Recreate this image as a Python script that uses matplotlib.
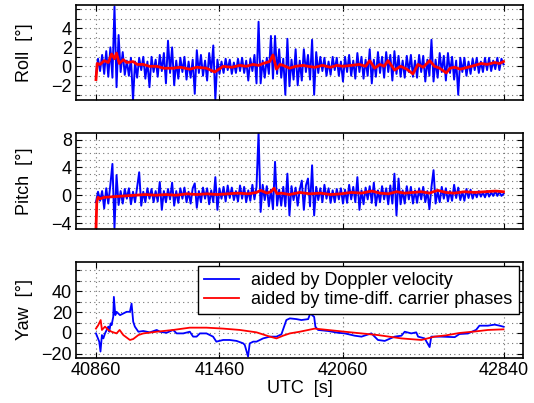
import numpy as np
import matplotlib
matplotlib.use('Agg')
import matplotlib.pyplot as plt
from matplotlib.ticker import FixedLocator

plt.rcParams['font.family'] = ['Liberation Sans', 'DejaVu Sans']
plt.rcParams['font.size'] = 13

# sample times of the Doppler aided solution (roll / pitch), 10 s apart
t_noisy = np.arange(40860, 42841, 10)

roll_doppler = [
    -0.9, 0.8, -0.5, 1.2, -0.8, 1.6, -1.1, 2.0, -1.2, 6.3,
    -2.2, 3.3, -0.6, 1.5, -0.9, 0.6, -1.0, 0.9, -3.6, 0.5,
    -1.2, 0.9, -0.4, 1.0, -1.3, 0.5, -2.2, 1.0, -0.6, 0.7,
    -1.1, 1.2, -0.5, 1.4, -1.8, 2.7, -0.7, 2.0, -2.0, 0.6,
    -1.3, 0.9, -0.6, 1.0, -1.4, 0.5, -1.2, 0.7, -2.9, 1.7,
    -0.7, 1.2, -1.0, 0.6, -1.5, 1.4, -0.6, 2.2, -3.5, 0.7,
    -0.8, 0.5, -0.7, 0.8, -0.4, 0.7, -0.8, 0.4, -0.7, 0.8,
    -0.5, 0.9, -0.7, 0.6, -1.5, 0.8, -0.5, 1.2, -1.8, 4.7,
    -1.8, 0.6, -1.2, 0.9, -0.8, 3.2, -1.3, 3.2, -0.8, 1.8,
    -1.2, 0.8, -3.0, 2.9, -2.1, 0.7, -1.4, 1.8, -2.0, 0.6,
    -1.5, 1.8, -0.6, 1.2, -1.4, 2.8, -3.0, 1.5, -0.7, 1.0,
    -0.5, 0.9, -1.0, 0.5, -0.9, 1.0, -0.4, 0.9, -1.0, 0.5,
    -1.6, 1.0, -0.6, 1.2, -1.0, 0.6, -1.3, 1.4, -0.6, 1.0,
    -1.3, 0.7, -1.0, 1.8, -1.8, 0.7, -1.1, 1.5, -0.7, 1.0,
    -1.2, 1.5, -0.6, 1.2, -1.5, 1.6, -0.8, 1.1, -1.1, 0.6,
    -1.2, 1.1, -0.6, 1.2, -1.1, 0.6, -1.2, 1.2, -0.6, 1.1,
    -1.6, 0.7, -1.0, 2.8, -1.6, 0.7, -1.2, 1.4, -0.6, 1.1,
    -1.5, 1.4, -0.7, 1.0, -1.4, 0.6, -3.0, 0.9, -0.6, 0.9,
    -1.0, 0.5, -0.8, 0.8, -0.4, 0.9, -0.7, 0.5, -0.6, 0.9,
    -0.4, 0.9, -0.5, 0.6, -0.3, 0.9, -0.4, 0.8, 0.2,
]

pitch_doppler = [
    -1.0, 0.5, -0.8, 0.6, -1.9, 1.0, -1.2, 1.5, 4.5, -4.7,
    2.9, -1.4, 0.6, -1.2, 0.9, -0.5, 1.0, -1.3, 0.5, -1.0,
    1.2, 3.3, -1.5, 0.5, -1.0, 1.0, -0.5, 0.9, -1.0, 0.6,
    -0.9, 1.9, -2.1, 0.6, -1.0, 0.9, -0.6, 1.8, -1.5, 0.6,
    -1.1, 1.0, -0.5, 1.1, -1.0, 0.5, -1.2, 1.0, 1.7, -1.8,
    0.6, -1.0, 1.1, -0.5, 1.0, -1.3, 0.7, -1.0, 2.6, -2.1,
    1.0, -0.5, 1.2, -0.9, 1.4, -0.4, 1.1, -0.7, 0.6, -0.9,
    1.4, -0.5, 1.2, -1.0, 0.7, -0.8, 1.5, -0.6, 1.2, 9.0,
    -2.4, 1.5, -0.7, 1.3, -1.6, 0.8, -2.0, 4.8, -1.5, 0.8,
    -1.5, 1.2, -1.6, 3.1, -2.9, 1.3, -0.7, 1.1, -1.5, 0.8,
    2.1, -2.1, 1.4, 2.4, -1.6, 4.3, -2.9, 1.2, -0.7, 1.0,
    -1.0, 1.5, -0.5, 1.0, -1.1, 0.7, -1.0, 0.9, -0.6, 1.0,
    -1.2, 0.8, -1.1, 1.5, -0.6, 1.2, -1.0, 2.6, -2.1, 0.7,
    -1.3, 1.1, -0.6, 1.3, -1.1, 1.8, -1.5, 0.7, -1.0, 1.3,
    -0.6, 1.0, -1.3, 1.4, -1.2, 3.1, -2.9, 2.4, -1.3, 0.7,
    -1.2, 1.3, -0.6, 1.2, -1.2, 0.7, -1.1, 1.0, -0.6, 1.2,
    -1.0, 0.6, -2.0, 1.2, 3.6, -1.2, 0.6, -1.0, 1.2, -0.5,
    1.0, -0.9, 0.6, -0.8, 1.5, -0.4, 1.1, -0.7, 0.5, -0.8,
    0.9, -0.4, 0.8, -0.5, 0.5, -0.3, 0.6, -0.2, 0.4, -0.3,
    0.6, -0.2, 0.4, -0.1, 0.6, -0.1, 0.5, -0.1, 0.2,
]

t_roll_phase = [
    40860, 40866, 40880, 40900, 40920, 40936, 40950, 40960, 40973, 40993,
    41010, 41041, 41060, 41090, 41120, 41155, 41190, 41234, 41270, 41316,
    41350, 41397, 41437, 41478, 41520, 41559, 41590, 41623, 41650, 41672,
    41704, 41720, 41737, 41755, 41769, 41801, 41830, 41866, 41890, 41923,
    41960, 42000, 42030, 42060, 42100, 42140, 42170, 42190, 42214, 42240,
    42260, 42279, 42295, 42311, 42340, 42370, 42400, 42424, 42450, 42481,
    42505, 42530, 42562, 42580, 42602, 42630, 42667, 42700, 42732, 42760,
    42797, 42820, 42840,
]
roll_phase = [
    -1.4, 0.3, 0.2, 0.6, 0.4, 1.3, 0.8, 1.4, 0.3, 0.7,
    0.4, 0.5, 0.2, 0.2, 0.0, 0.0, -0.2, -0.2, -0.1, -0.3,
    -0.1, -0.2, -0.6, 0.0, -0.1, 0.1, 0.0, 0.2, 0.1, 0.3,
    0.5, 1.2, -0.3, 0.2, 0.1, -0.2, 0.0, 0.1, 0.0, -0.1,
    0.1, -0.1, 0.1, 0.0, 0.1, 0.2, 0.0, 0.6, -0.2, 0.2,
    0.0, 0.6, 0.1, -0.4, 0.0, -0.3, -0.8, 0.2, -0.1, 0.6,
    0.0, -0.2, -0.7, -0.2, -0.1, -0.3, -0.1, 0.1, 0.3, 0.2,
    0.4, 0.3, 0.5,
]

t_pitch_phase = [
    40860, 40864, 40870, 40880, 40900, 40950, 41000, 41050, 41100, 41150,
    41200, 41250, 41300, 41350, 41400, 41450, 41500, 41550, 41600, 41640,
    41660, 41690, 41710, 41725, 41740, 41760, 41800, 41850, 41900, 41950,
    42000, 42050, 42100, 42150, 42200, 42240, 42280, 42320, 42360, 42400,
    42440, 42480, 42520, 42560, 42600, 42650, 42700, 42750, 42800, 42840,
]
pitch_phase = [
    -5.0, -1.0, -0.3, -0.5, -0.3, -0.2, -0.1, 0.0, 0.1, 0.0,
    0.1, 0.0, 0.2, 0.1, 0.2, 0.1, 0.2, 0.3, 0.2, 0.4,
    0.7, 0.3, 0.5, 1.0, 0.2, 0.3, 0.1, 0.4, 0.2, 0.3,
    0.1, 0.2, 0.4, 0.3, 0.6, 0.3, 0.2, 0.5, 0.3, 0.4,
    0.5, 0.3, 0.7, 0.4, 0.3, 0.5, 0.4, 0.5, 0.6, 0.5,
]

t_yaw_doppler = [
    40860, 40876, 40882, 40889, 40896, 40904, 40912, 40920, 40925, 40931,
    40936, 40944, 40947, 40954, 40960, 40977, 40993, 41009, 41025, 41033,
    41041, 41049, 41066, 41090, 41122, 41155, 41171, 41203, 41235, 41252,
    41284, 41316, 41332, 41349, 41365, 41397, 41429, 41445, 41478, 41510,
    41543, 41575, 41583, 41599, 41607, 41624, 41640, 41672, 41705, 41737,
    41761, 41785, 41802, 41834, 41858, 41891, 41904, 41910, 41920, 41926,
    41939, 41988, 42036, 42069, 42117, 42150, 42198, 42230, 42263, 42311,
    42344, 42360, 42392, 42416, 42425, 42457, 42481, 42489, 42538, 42603,
    42626, 42667, 42707, 42723, 42764, 42797, 42821, 42840,
]
yaw_doppler = [
    -0.4, -8.3, -17.8, -2.0, -5.2, -0.4, 2.9, 6.1, 1.2, 9.2,
    7.5, 15.5, 34.6, 17.1, 20.3, 17.1, 18.7, 20.3, 20.3, 28.2,
    10.8, 6.1, 1.2, 1.9, 0.6, 2.9, 1.2, 0.2, 2.9, -0.4,
    -0.4, 1.2, -3.5, -3.5, -0.4, -0.4, -3.5, -8.3, -6.7, -6.7,
    -7.6, -9.9, -11.5, -22.6, -10.0, -8.3, -8.3, -5.2, -3.5, -3.5,
    -1.3, 12.4, 14.0, 13.3, 12.4, 13.3, 20.3, 17.1, 15.5, 6.1,
    2.9, 1.9, 0.2, -0.4, -2.6, -3.5, -0.4, -6.7, -7.6, -3.5,
    -2.6, 1.2, -0.4, 0.6, -3.5, -5.2, -13.5, -3.5, -3.5, -4.0,
    -1.0, -0.5, 3.0, 7.0, 7.0, 8.0, 7.0, 6.0,
]

t_yaw_phase = [
    40860, 40871, 40883, 40889, 40904, 40920, 40936, 40960, 40975, 40993,
    41025, 41041, 41066, 41090, 41155, 41235, 41316, 41397, 41478, 41559,
    41640, 41705, 41737, 41769, 41802, 41850, 41923, 42069, 42230, 42344,
    42441, 42505, 42560, 42626, 42700, 42764, 42840,
]
yaw_phase = [
    4.2, 7.5, 12.4, 2.9, 6.1, 2.9, 1.2, -0.4, 2.9, -2.0,
    -6.7, -5.8, -2.0, -0.4, 1.2, 2.9, 5.1, 5.1, 4.2, 2.9,
    0.6, -3.5, -5.2, -2.6, -0.4, 1.2, 4.2, 1.2, -2.0, -5.2,
    -6.7, -3.5, -2.3, 0.0, 1.4, 2.9, 3.5,
]

x_ticks = [40860, 41460, 42060, 42840]

fig = plt.figure(figsize=(5.34, 4.03), dpi=100)
ax_roll = fig.add_axes([0.1423, 0.7519, 0.838, 0.2365])
ax_pitch = fig.add_axes([0.1423, 0.431, 0.838, 0.2382])
ax_yaw = fig.add_axes([0.1423, 0.1129, 0.838, 0.2382])

grid_style = dict(linestyle=(0, (1, 3)), color='0.45', linewidth=0.8)


def style_axes(ax, ylim, major, minor, label):
    ax.set_xlim(40763, 42937)
    ax.set_ylim(*ylim)
    ax.set_xticks(x_ticks)
    ax.yaxis.set_major_locator(FixedLocator(major))
    ax.yaxis.set_minor_locator(FixedLocator(minor))
    ax.grid(True, which='major', axis='x', **grid_style)
    ax.grid(True, which='both', axis='y', **grid_style)
    ax.set_axisbelow(True)
    ax.tick_params(which='both', direction='in', top=True, right=True,
                   width=0.8, pad=3)
    ax.tick_params(which='major', length=4)
    ax.tick_params(which='minor', length=3)
    for s in ax.spines.values():
        s.set_linewidth(1.2)
    ax.set_ylabel(label)
    ax.yaxis.set_label_coords(-0.095, 0.5)


ax_roll.plot(t_noisy, roll_doppler, color='blue', lw=1.4)
ax_roll.plot(t_roll_phase, roll_phase, color='red', lw=2.0)
style_axes(ax_roll, (-3.55, 6.5), [-2, 0, 2, 4], range(-3, 7), 'Roll  [°]')
ax_roll.tick_params(labelbottom=False)

ax_pitch.plot(t_noisy, pitch_doppler, color='blue', lw=1.4)
ax_pitch.plot(t_pitch_phase, pitch_phase, color='red', lw=2.0)
style_axes(ax_pitch, (-4.9, 8.9), [-4, 0, 4, 8], range(-4, 9), 'Pitch  [°]')
ax_pitch.tick_params(labelbottom=False)

ax_yaw.plot(t_yaw_doppler, yaw_doppler, color='blue', lw=1.3,
            label='aided by Doppler velocity')
ax_yaw.plot(t_yaw_phase, yaw_phase, color='red', lw=1.3,
            label='aided by time-diff. carrier phases')
style_axes(ax_yaw, (-23.5, 68.5), [-20, 0, 20, 40], range(-20, 61, 10), 'Yaw  [°]')
ax_yaw.set_xlabel('UTC  [s]', labelpad=1)

leg = ax_yaw.legend(loc='upper right', bbox_to_anchor=(0.99, 0.955),
                    borderaxespad=0, fancybox=False, framealpha=1,
                    edgecolor='black', handlelength=1.9, handletextpad=0.7,
                    borderpad=0.35, labelspacing=0.1, fontsize=13)
leg.get_frame().set_linewidth(1.0)

fig.savefig('out.png', dpi=100)
